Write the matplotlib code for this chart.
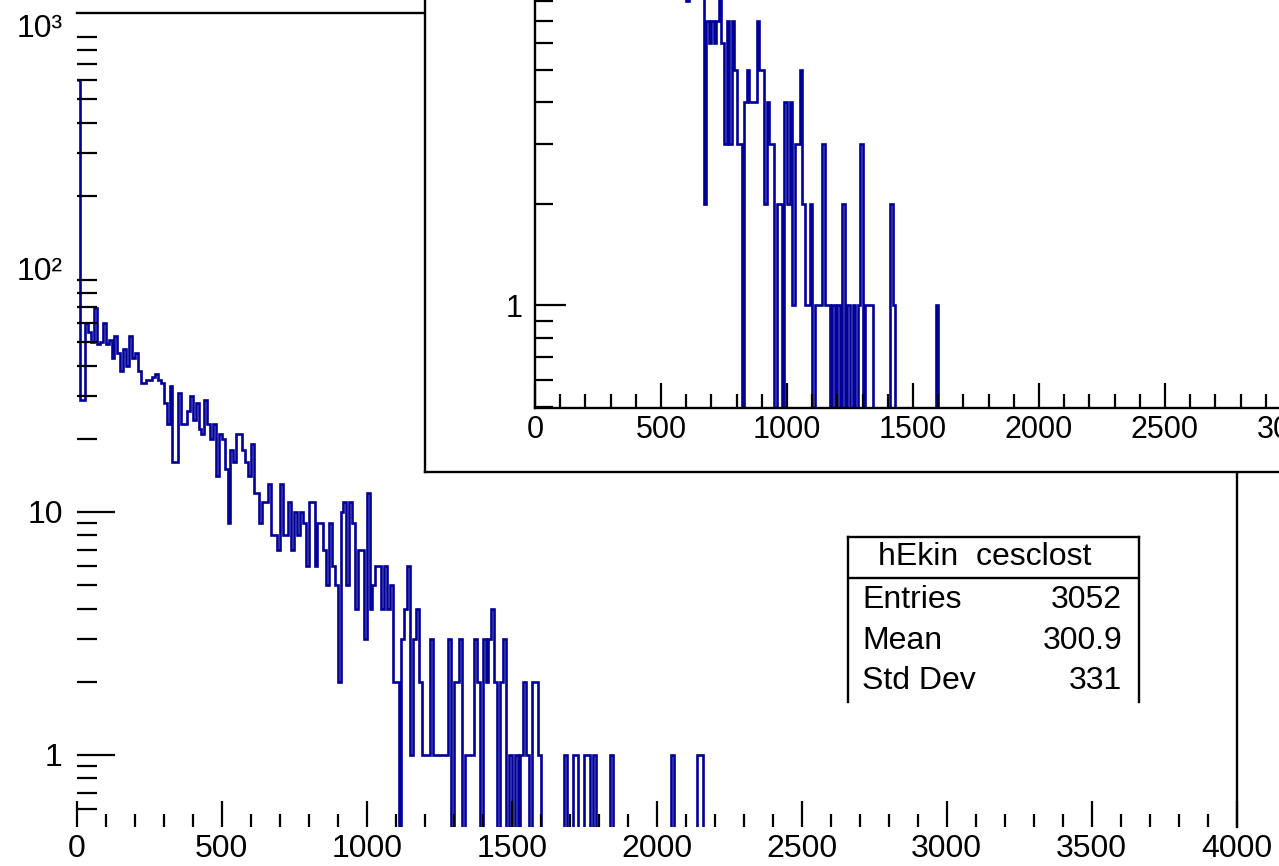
import numpy as np
import matplotlib.pyplot as plt
from matplotlib.ticker import MultipleLocator, LogLocator, FixedLocator, NullFormatter

plt.rcParams['font.family'] = ['Liberation Sans', 'DejaVu Sans']

# histogram contents, 10 units per bin starting at 0
bin_width = 10
main_counts = [
    600, 29, 29, 60, 55, 50, 69, 49, 50, 60,
    49, 51, 43, 53, 45, 38, 47, 40, 53, 43,
    45, 38, 34, 34, 35, 35, 36, 37, 35, 34,
    28, 23, 33, 16, 16, 31, 23, 23, 26, 30,
    24, 28, 22, 21, 29, 23, 20, 23, 14, 21,
    20, 15, 9, 18, 16, 21, 21, 18, 16, 14,
    19, 12, 12, 9, 11, 11, 13, 8, 8, 7,
    13, 8, 8, 11, 7, 10, 8, 10, 9, 6,
    11, 11, 6, 9, 9, 7, 5, 9, 6, 5,
    2, 10, 11, 5, 11, 9, 4, 7, 7, 3,
    12, 4, 5, 6, 6, 4, 6, 4, 5, 2,
    2, 0, 3, 4, 6, 1, 3, 4, 2, 1,
    1, 1, 3, 1, 1, 1, 1, 1, 3, 0,
    2, 2, 3, 0, 1, 1, 1, 3, 2, 0,
    3, 2, 3, 4, 2, 0, 2, 3, 0, 1,
    0, 1, 0, 1, 2, 1, 0, 2, 2, 1,
    0, 0, 0, 0, 0, 0, 0, 0, 1, 0,
    0, 1, 1, 0, 0, 1, 1, 0, 1, 0,
    0, 0, 0, 0, 1, 0, 0, 0, 0, 0,
    0, 0, 0, 0, 0, 0, 0, 0, 0, 0,
    0, 0, 0, 0, 0, 1, 0, 0, 0, 0,
    0, 0, 0, 0, 1, 1, 0,
]
inset_counts = [
    40, 22, 25, 30, 28, 26, 31, 24, 27, 25,
    23, 26, 22, 24, 21, 20, 23, 19, 21, 18,
    20, 17, 19, 16, 18, 17, 15, 16, 14, 17,
    15, 13, 16, 14, 12, 15, 13, 14, 12, 11,
    13, 12, 10, 12, 11, 13, 10, 11, 12, 10,
    9, 11, 10, 12, 9, 10, 11, 9, 10, 12,
    8, 12, 10, 11, 9, 10, 12, 2, 7, 6,
    7, 6, 7, 10, 6, 3, 7, 3, 7, 5,
    3, 3, 0, 4, 5, 4, 4, 4, 7, 5,
    5, 2, 4, 3, 3, 0, 2, 2, 0, 4,
    2, 4, 1, 3, 3, 5, 2, 1, 1, 2,
    0, 1, 1, 1, 3, 1, 1, 0, 1, 0,
    1, 0, 2, 0, 1, 0, 1, 0, 1, 3,
    0, 1, 1, 1, 0, 0, 0, 0, 0, 0,
    0, 2, 1, 0, 0, 0, 0, 0, 0, 0,
    0, 0, 0, 0, 0, 0, 0, 0, 0, 1,
    0,
]
main_xticks = [0, 500, 1000, 1500, 2000, 2500, 3000, 3500, 4000]
inset_xticks = [0, 500, 1000, 1500, 2000, 2500, 3000]
stats_title = 'hEkin  cesclost'
stats_names = ['Entries', 'Mean', 'Std Dev']
stats_values = ['3052', '300.9', '331']

main_edges = np.arange(len(main_counts) + 1) * bin_width
inset_edges = np.arange(len(inset_counts) + 1) * bin_width

blue = '#000099'
W, H = 1279, 866
lw_frame = 1.7


def box(x0, y0, x1, y1):
    # pixel box (origin top left) -> figure fraction rect
    return [x0 / W, 1 - y1 / H, (x1 - x0) / W, (y1 - y0) / H]


def root_axis(ax, xticks, xlab, ylab, xlen, ylen, ypad):
    ax.xaxis.set_major_locator(FixedLocator(xticks))
    ax.xaxis.set_minor_locator(MultipleLocator(100))
    ax.yaxis.set_minor_locator(LogLocator(base=10, subs=np.arange(2, 10) * 1.0, numticks=20))
    ax.yaxis.set_minor_formatter(NullFormatter())
    ax.tick_params(which='both', direction='in', top=False, right=False,
                   width=1.6, color='black')
    ax.tick_params(axis='x', which='major', length=xlen[0], pad=5, labelsize=xlab)
    ax.tick_params(axis='x', which='minor', length=xlen[1])
    ax.tick_params(axis='y', which='major', length=ylen[0], pad=ypad, labelsize=ylab)
    ax.tick_params(axis='y', which='minor', length=ylen[1])


fig = plt.figure(figsize=(W / 100, H / 100), dpi=100)

# main pad
ax = fig.add_axes(box(76.7, 13, 1236.7, 827), zorder=1)
ax.set_yscale('log')
ax.stairs(main_counts, main_edges, baseline=None, color=blue, lw=1.9)
ax.set_xlim(0, 4000)
ax.set_ylim(0.505, 1131)
ax.yaxis.set_major_locator(FixedLocator([1, 10, 100, 1000]))
ax.set_yticklabels(['1', '10', '10\u00b2', '10\u00b3'])
root_axis(ax, main_xticks, 23, 23, (18.7, 9.4), (27, 14.4), 10)
for t in ax.yaxis.get_major_ticks()[2:]:
    t.tick1line.set_visible(False)
ax.spines['left'].set_visible(False)
ax.spines['bottom'].set_visible(False)
for s in ['top', 'right']:
    ax.spines[s].set_linewidth(lw_frame)

# stats box
sb = fig.add_axes(box(848, 537, 1139, 702), zorder=4)
sb.set_xticks([])
sb.set_yticks([])
sb.set_xlim(0, 1)
sb.set_ylim(0, 1)
sb.spines['bottom'].set_visible(False)
for s in ['top', 'left', 'right']:
    sb.spines[s].set_linewidth(lw_frame)
sb.axhline(0.7515, color='black', lw=lw_frame)
sb.text(0.469, 0.879, stats_title, ha='center', va='center', fontsize=23)
for k, (name, val) in enumerate(zip(stats_names, stats_values)):
    yy = 0.618 - k * 0.2455
    sb.text(0.048, yy, name, ha='left', va='center', fontsize=23)
    sb.text(0.942, yy, val, ha='right', va='center', fontsize=23)

# inset pad frame
pad = fig.add_axes(box(425, -100, 1500, 472), zorder=2)
pad.set_xticks([])
pad.set_yticks([])
for s in pad.spines.values():
    s.set_linewidth(lw_frame)

# inset histogram
ins = fig.add_axes(box(535, -133, 1543, 408), zorder=3)
ins.set_facecolor('none')
ins.set_yscale('log')
ins.stairs(inset_counts, inset_edges, baseline=None, color=blue, lw=1.9)
ins.set_xlim(0, 4000)
ins.set_ylim(0.495, 20)
ins.yaxis.set_major_locator(FixedLocator([1]))
ins.set_yticklabels(['1'])
root_axis(ins, inset_xticks, 22, 22, (18, 10), (22, 13), 9)
for s in ['left', 'bottom']:
    ins.spines[s].set_linewidth(lw_frame)
ins.spines['top'].set_visible(False)
ins.spines['right'].set_visible(False)

fig.savefig('out.png', dpi=100)
